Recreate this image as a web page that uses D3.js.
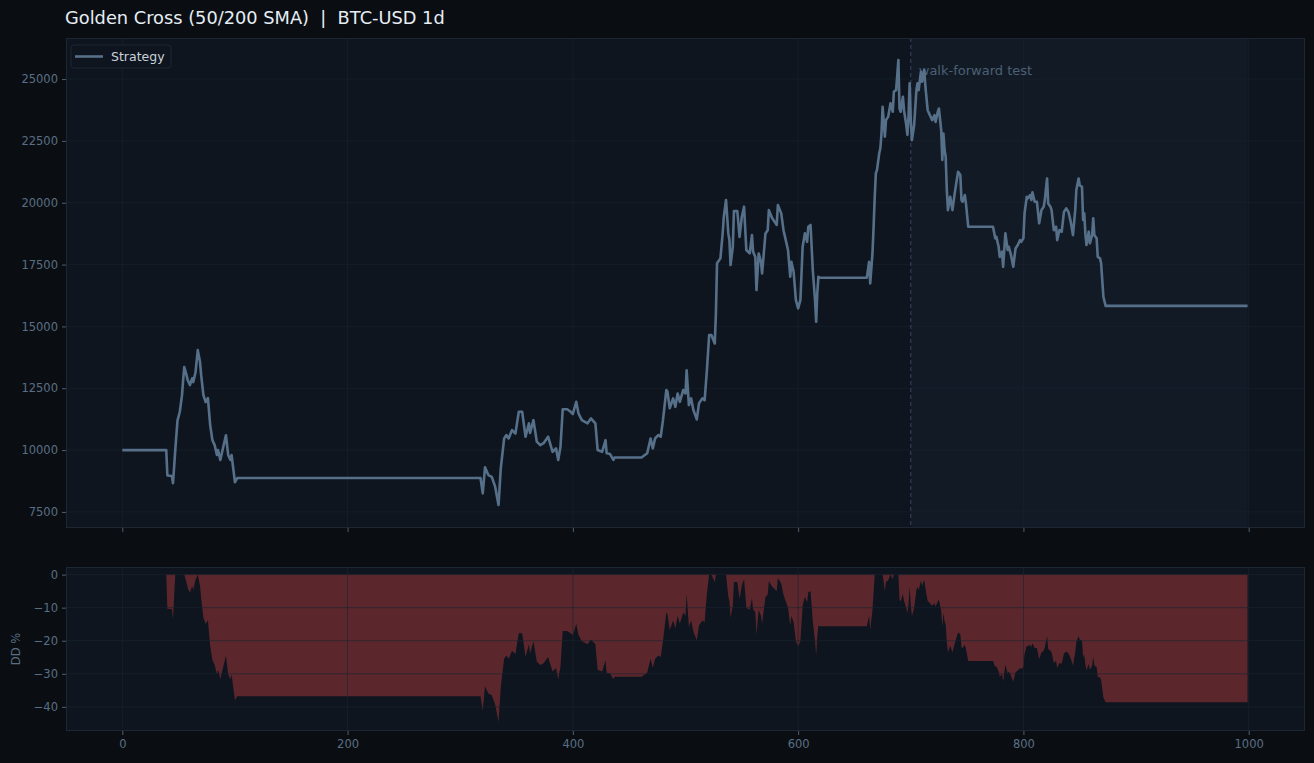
<!DOCTYPE html>
<html>
<head>
<meta charset="utf-8">
<script src="https://cdn.jsdelivr.net/npm/d3@7"></script>
<style>
  html, body { margin: 0; padding: 0; background: #0a0e13; }
  svg { display: block; font-family: "DejaVu Sans", sans-serif; }
</style>
</head>
<body>
<div id="chart"></div>
<script>
// equity curve: bar index -> account value
const days = [0,39,40,44,45,47,49,51,53,54,55,57,58,60,62,63,65,67,69,70,72,74,76,78,80,82,84,85,87,89,92,94,96,97,100,102,
  318,320,322,325,328,331,334,336,339,341,343,346,349,352,355,358,361,362,365,368,371,374,378,382,385,387,389,391,395,398,400,403,405,408,413,416,420,422,426,429,430,433,436,437,
  461,466,469,471,473,476,478,480,483,484,486,489,491,493,495,498,500,501,503,505,507,510,512,515,517,519,521,523,526,527,528,531,533,534,536,538,539,540,542,543,546,548,550,552,554,557,559,560,562,563,565,567,568,571,573,574,577,580,581,582,585,587,588,591,593,594,596,598,600,602,604,606,608,609,611,612,613,615,616,617,618,619,
  661,663,664,666,667,668,669,670,672,673,674,675,677,678,680,682,684,685,687,688,689,690,691,693,694,696,697,698,699,700,701,703,705,706,707,709,710,712,713,715,717,719,721,722,724,725,727,728,729,730,731,732,733,735,737,739,742,744,745,746,748,749,751,
  773,775,776,778,779,781,782,784,786,787,789,791,793,795,797,798,800,801,803,804,806,807,808,810,812,814,816,818,819,821,822,824,825,827,829,830,832,834,836,838,840,842,844,846,847,849,850,852,853,854,855,856,858,859,861,862,863,865,866,868,869,870,871,873,999]
const equity = [10000,10000,8970,8950,8660,10000,11200,11540,12220,12830,13360,13030,12830,12630,12900,12750,13150,14040,13560,13030,12220,11940,12100,11010,10400,10200,9800,10000,9600,10000,10600,9800,9600,9800,8700,8870,
  8870,8250,9300,8990,8920,8520,7780,9260,10470,10610,10470,10810,10670,11550,11550,10540,11080,10690,11210,10340,10200,10280,10540,9930,10070,9600,10130,11650,11650,11550,11460,11950,11480,11210,11080,11280,11080,10000,9930,10400,9870,9840,9600,9700,
  9700,9870,10470,10070,10470,10610,10540,11210,12430,12360,11690,12090,11750,12290,11950,12430,12290,13230,11820,12090,11620,11240,11890,12090,12020,13230,14650,14650,14310,15530,17550,17750,18760,19430,20110,18760,18490,17480,18220,19660,19660,18620,19430,19840,18090,17950,18690,18020,17810,16470,17950,17610,17140,18760,18890,19700,19370,19170,19100,19910,19570,18890,18690,18090,17010,17610,17210,16060,15730,16060,18220,18760,18420,19030,19100,18220,17280,16060,15190,16340,17010,16970,
  16970,17610,16740,17950,19030,20240,21190,21320,22000,22200,22800,23880,22670,23340,23480,24020,23680,24490,24550,25160,25770,23810,23680,24280,23740,23140,22740,23480,24830,23340,22530,23140,24550,24830,24550,25290,24890,25360,24690,23740,23540,23340,23540,23270,23680,23810,22940,21730,22800,22130,21860,20510,19700,20240,19700,20380,21250,21120,20110,20040,20310,19970,19030,
  19030,18560,18620,18220,17810,18020,17410,18760,18090,18220,17880,17410,18150,18290,18490,18420,18560,19570,20240,20180,20310,20110,20420,20040,20040,19170,19700,19840,20110,20980,19970,19840,19700,18890,19030,18490,18890,18830,19630,19770,19630,19230,18690,19700,20510,20980,20710,20640,19300,19570,18760,18290,18830,18360,18690,19370,18690,18560,17810,17750,17550,16870,16200,15830,15830]

const xTicks = [0,200,400,600,800,1000]
const eqTicks = [7500,10000,12500,15000,17500,20000,22500,25000]
const ddTicks = [0,-10,-20,-30,-40]
const splitDay = 700
const lastDay = 999

const W = 1314, H = 763
const pTop = {x:66, y:38, w:1239, h:490}
const pBot = {x:66, y:567, w:1239, h:164}

// series for drawing, drawdown from running peak
let peak = -Infinity
const n = Math.min(days.length, equity.length)
const data = days.slice(0,n).map((d,i) => {
  peak = Math.max(peak, equity[i])
  return {day:d, eq:equity[i], dd:(equity[i]/peak - 1)*100}
})

const x = d3.scaleLinear().domain([-50,1050]).range([pTop.x, pTop.x+pTop.w])
const yEq = d3.scaleLinear().domain([6850,26660]).range([pTop.y+pTop.h, pTop.y])
const yDd = d3.scaleLinear().domain([-47.3,2.3]).range([pBot.y+pBot.h, pBot.y])

const svg = d3.select("#chart").append("svg").attr("width",W).attr("height",H)
svg.append("rect").attr("width",W).attr("height",H).attr("fill","#0a0e13")

const tickCol = "#4d5f72", labCol = "#5a6e83", gridCol = "#1a2430", spineCol = "#1c2733"

// ---- equity panel
svg.append("rect").attr("x",pTop.x).attr("y",pTop.y).attr("width",pTop.w).attr("height",pTop.h).attr("fill","#0e151f")
svg.append("rect").attr("x",x(splitDay)).attr("y",pTop.y).attr("width",x(lastDay)-x(splitDay)).attr("height",pTop.h)
  .attr("fill","#16202b").attr("opacity",0.5)

let gTop = svg.append("g")
gTop.selectAll(".vg").data(xTicks).enter().append("line")
  .attr("x1",d=>x(d)).attr("x2",d=>x(d)).attr("y1",pTop.y).attr("y2",pTop.y+pTop.h)
  .attr("stroke",gridCol).attr("stroke-width",0.8).attr("opacity",0.7)
gTop.selectAll(".hg").data(eqTicks).enter().append("line")
  .attr("x1",pTop.x).attr("x2",pTop.x+pTop.w).attr("y1",d=>yEq(d)).attr("y2",d=>yEq(d))
  .attr("stroke",gridCol).attr("stroke-width",0.8).attr("opacity",0.7)

svg.append("line").attr("x1",x(splitDay)).attr("x2",x(splitDay)).attr("y1",pTop.y).attr("y2",pTop.y+pTop.h)
  .attr("stroke","#34465a").attr("stroke-width",1).attr("stroke-dasharray","4,3")
svg.append("text").attr("x",x(splitDay)+8).attr("y",74.5).attr("fill","#4c6075").attr("font-size",13).text("walk-forward test")

const line = d3.line().x(d=>x(d.day)).y(d=>yEq(d.eq))
svg.append("path").datum(data).attr("d",line).attr("fill","none")
  .attr("stroke","#57708a").attr("stroke-width",2.6).attr("stroke-linejoin","round")

svg.append("rect").attr("x",pTop.x+0.5).attr("y",pTop.y+0.5).attr("width",pTop.w-1).attr("height",pTop.h-1)
  .attr("fill","none").attr("stroke",spineCol)

const yAxisTop = d3.axisLeft(yEq).tickValues(eqTicks).tickSize(4).tickPadding(4).tickFormat(d3.format("d"))
svg.append("g").attr("transform",`translate(${pTop.x},0)`).call(yAxisTop)
const xAxisTop = d3.axisBottom(x).tickValues(xTicks).tickSize(4).tickFormat("")
svg.append("g").attr("transform",`translate(0,${pTop.y+pTop.h})`).call(xAxisTop)

// legend
svg.append("rect").attr("x",71).attr("y",45).attr("width",100).attr("height",23).attr("rx",3)
  .attr("fill","#0e151f").attr("stroke",spineCol)
svg.append("line").attr("x1",75).attr("x2",103).attr("y1",56.5).attr("y2",56.5).attr("stroke","#57708a").attr("stroke-width",2.6)
svg.append("text").attr("x",111).attr("y",60.5).attr("fill","#c9d1d9").attr("font-size",12.5).text("Strategy")

// ---- drawdown panel
svg.append("rect").attr("x",pBot.x).attr("y",pBot.y).attr("width",pBot.w).attr("height",pBot.h).attr("fill","#0e151f")
const area = d3.area().x(d=>x(d.day)).y0(yDd(0)).y1(d=>yDd(d.dd))
svg.append("path").datum(data).attr("d",area).attr("fill","#5b272d")

let gBot = svg.append("g")
gBot.selectAll(".vg").data(xTicks).enter().append("line")
  .attr("x1",d=>x(d)).attr("x2",d=>x(d)).attr("y1",pBot.y).attr("y2",pBot.y+pBot.h)
  .attr("stroke","#1c2430").attr("stroke-width",0.8).attr("opacity",0.8)
gBot.selectAll(".hg").data(ddTicks).enter().append("line")
  .attr("x1",pBot.x).attr("x2",pBot.x+pBot.w).attr("y1",d=>yDd(d)).attr("y2",d=>yDd(d))
  .attr("stroke","#1c2430").attr("stroke-width",0.8).attr("opacity",0.8)

svg.append("rect").attr("x",pBot.x+0.5).attr("y",pBot.y+0.5).attr("width",pBot.w-1).attr("height",pBot.h-1)
  .attr("fill","none").attr("stroke",spineCol)

svg.append("g").attr("transform",`translate(${pBot.x},0)`)
  .call(d3.axisLeft(yDd).tickValues(ddTicks).tickSize(4).tickPadding(4).tickFormat(d3.format("d")))
svg.append("g").attr("transform",`translate(0,${pBot.y+pBot.h})`)
  .call(d3.axisBottom(x).tickValues(xTicks).tickSize(4).tickPadding(5).tickFormat(d3.format("d")))

svg.selectAll(".domain").remove()
svg.selectAll(".tick line").attr("stroke",tickCol)
svg.selectAll(".tick text").attr("fill",labCol).attr("font-size",11.5).attr("font-family","DejaVu Sans")

svg.append("text").attr("transform",`translate(20,${pBot.y+pBot.h/2}) rotate(-90)`).attr("text-anchor","middle")
  .attr("fill",labCol).attr("font-size",11.5).text("DD %")

svg.append("text").attr("x",65).attr("y",24).attr("fill","#e6edf3").attr("font-size",17.8)
  .style("white-space","pre").text("Golden Cross (50/200 SMA)  |  BTC-USD 1d")
</script>
</body>
</html>
